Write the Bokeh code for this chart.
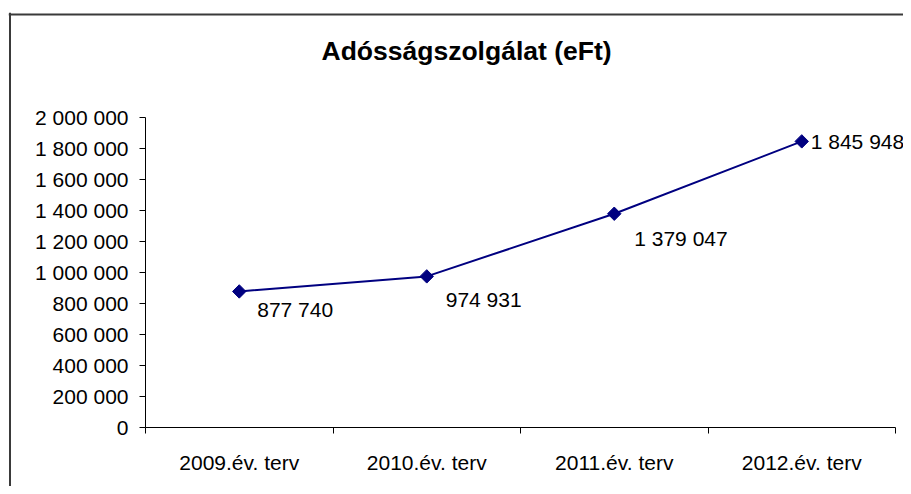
from bokeh.plotting import figure
from bokeh.models import (Range1d, FixedTicker, ColumnDataSource, Label, LabelSet, Span)
from bokeh.core.properties import value
from bokeh.embed import file_html
from bokeh.resources import INLINE
import numpy as np

# ---- data ----
categories = ["2009.év. terv", "2010.év. terv", "2011.év. terv", "2012.év. terv"]
values = [877740, 974931, 1379047, 1845948]
y_ticks = [0, 200000, 400000, 600000, 800000, 1000000, 1200000, 1400000,
           1600000, 1800000, 2000000]
title_text = "Adósságszolgálat (eFt)"

# ---- styles (label offsets in screen px; negative y = downwards) ----
label_dx = [18, 19, 20, 9]
label_dy = [-18, -23, -25, 0]

def fmt(v):
    return f"{v:,}".replace(",", " ")

FONT = "Liberation Sans"
NAVY = "#000080"

# ---- layout (canvas pixels) ----
W, H = 903, 486
AX_L, AX_R, AX_T, AX_B = 145, 895, 117, 427     # plot area of the chart
FR_L, FR_T = 8, 12                              # frame covers the whole chart area
YMAX = 2000000
n = len(categories)
px_x = (AX_R - AX_L) / n            # px per category
px_y = (AX_B - AX_T) / YMAX         # px per unit value

def data_x(cx):
    return (cx - AX_L) / px_x

def data_y(cy):
    return (AX_B - cy) / px_y

xs = np.arange(n) + 0.5
src = ColumnDataSource(dict(
    x=xs, y=values, lbl=[fmt(v) for v in values],
    dx=label_dx, dy=label_dy,
))

p = figure(width=W, height=H, output_backend="svg", toolbar_location=None,
           x_range=Range1d(data_x(FR_L), data_x(W)),
           y_range=Range1d(data_y(H), data_y(FR_T)),
           min_border_left=FR_L, min_border_right=0, min_border_top=FR_T,
           min_border_bottom=0)
p.background_fill_color = "white"
p.border_fill_color = "white"
p.outline_line_color = None
p.xgrid.visible = False
p.ygrid.visible = False

# chart-area border (left and top edges; the others lie outside the picture)
p.add_layout(Span(location=data_x(9.5), dimension="height",
                  line_color="#3a3a3a", line_width=2))
p.add_layout(Span(location=data_y(14), dimension="width",
                  line_color="#3a3a3a", line_width=2))

# title
p.add_layout(Label(x=data_x(321), y=data_y(50), text=title_text,
                   text_align="left", text_baseline="alphabetic",
                   text_font=FONT, text_font_size="26.5px",
                   text_font_style="bold", text_color="black"))

# x axis: labels at centers, tick marks at category boundaries
xa = p.xaxis[0]
xa.fixed_location = 0
xa.bounds = (0, n)
xa.ticker = FixedTicker(ticks=list(xs), minor_ticks=list(range(n + 1)))
xa.major_label_overrides = {float(x): c for x, c in zip(xs, categories)}
xa.major_tick_out = 0
xa.major_tick_in = 0
xa.minor_tick_out = 6
xa.minor_tick_in = 0
xa.minor_tick_line_color = "black"
xa.axis_line_color = "black"
xa.major_label_text_font = FONT
xa.major_label_text_font_size = "21px"
xa.major_label_text_color = "black"
xa.major_label_standoff = 17

# y axis
ya = p.yaxis[0]
ya.fixed_location = 0
ya.bounds = (0, YMAX)
ya.ticker = FixedTicker(ticks=y_ticks, minor_ticks=[])
ya.major_label_overrides = {t: fmt(t) for t in y_ticks}
ya.major_tick_out = 6
ya.major_tick_in = 0
ya.major_tick_line_color = "black"
ya.axis_line_color = "black"
ya.major_label_text_font = FONT
ya.major_label_text_font_size = "21px"
ya.major_label_text_color = "black"
ya.major_label_standoff = 11

# series
p.line("x", "y", source=src, line_color=NAVY, line_width=2)
p.scatter("x", "y", source=src, marker="square", size=9.5, angle=np.pi / 4,
          fill_color=NAVY, line_color=NAVY)
p.add_layout(LabelSet(x="x", y="y", text="lbl", source=src,
                      x_offset="dx", y_offset="dy",
                      text_font=value(FONT), text_font_size="21px",
                      text_color="black",
                      text_align="left", text_baseline="middle"))

open("out.html", "w").write(file_html(p, INLINE))
